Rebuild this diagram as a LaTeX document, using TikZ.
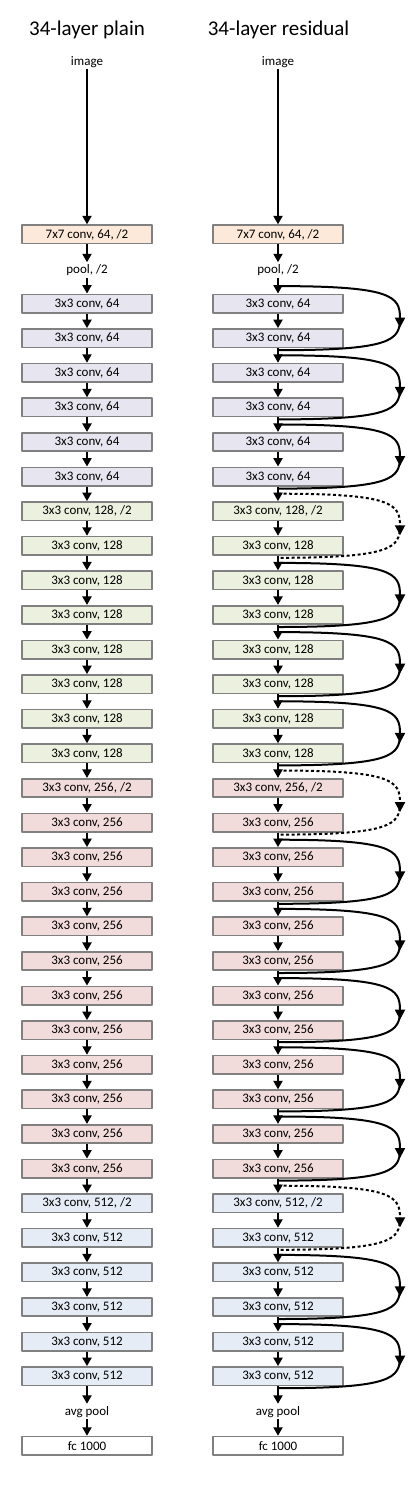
\documentclass[tikz,border=0pt]{standalone}
\usepackage{fontspec}
\setmainfont{Carlito}
\usetikzlibrary{arrows.meta}
\definecolor{edgegray}{HTML}{808080}
\definecolor{cfirst}{HTML}{FCE9D9}
\definecolor{csixtyfour}{HTML}{E7E5EF}
\definecolor{conetwoeight}{HTML}{EBF1DE}
\definecolor{ctwofivesix}{HTML}{F2DCDB}
\definecolor{cfivetwelve}{HTML}{E5ECF5}
\tikzset{
  layer/.style={draw=edgegray, line width=1.6pt, minimum width=130.4pt, minimum height=18.5pt, inner sep=0pt},
  plainlbl/.style={inner sep=2pt, anchor=base},
  flow/.style={-{Triangle[width=9pt,length=8.5pt]}, line width=2pt},
  skip/.style={line width=2pt},
  skiphead/.style={-{Triangle[width=10pt,length=10pt]}},
  proj/.style={skip, dash pattern=on 3pt off 2.5pt}
}
\begin{document}
\begin{tikzpicture}[x=1pt, y=-1pt, line join=round, font=\fontsize{13}{15}\selectfont]
\useasboundingbox (0,0) rectangle (412,1486);
% titles and input
\node[anchor=base, font=\fontsize{21}{25}\selectfont] (tplain) at (87,35) {34-layer plain};
\node[anchor=base, font=\fontsize{21}{25}\selectfont] (tres) at (278.5,35) {34-layer residual};
\node[plainlbl] (pimg) at (87,65) {image};
\node[plainlbl] (rimg) at (278,65) {image};
\node[layer, fill=cfirst] (p0) at (87,234.4) {7x7 conv, 64, /2};
\node[layer, fill=cfirst] (r0) at (278,234.4) {7x7 conv, 64, /2};
\node[plainlbl] (ppool) at (87,273.5) {pool, /2};
\node[plainlbl] (rpool) at (278,273.5) {pool, /2};
% 3x3 conv stacks
\foreach \first/\last/\ch/\col in {1/6/64/csixtyfour, 7/14/128/conetwoeight, 15/26/256/ctwofivesix, 27/32/512/cfivetwelve} {
  \foreach \i in {\first,...,\last} {
    \pgfmathsetmacro\yy{303.6+(\i-1)*34.6}
    \ifnum\i=\first \ifnum\i>1 \def\lbl{3x3 conv, \ch, /2}\else\def\lbl{3x3 conv, \ch}\fi\else\def\lbl{3x3 conv, \ch}\fi
    \node[layer, fill=\col] (p\i) at (87,\yy) {\lbl};
    \node[layer, fill=\col] (r\i) at (278,\yy) {\lbl};
  }
}
\node[plainlbl] (pavg) at (87,1415) {avg pool};
\node[plainlbl] (ravg) at (278,1415) {avg pool};
\node[layer, fill=white] (pfc) at (87,1445.8) {fc 1000};
\node[layer, fill=white] (rfc) at (278,1445.8) {fc 1000};
% main flow
\foreach \c in {p,r} {
  \draw[flow] (\c img) -- (\c0);
  \draw[flow] (\c0) -- (\c pool);
  \draw[flow] (\c pool) -- (\c1);
  \foreach \i [evaluate=\i as \j using int(\i+1)] in {1,...,31}
    \draw[flow] (\c\i) -- (\c\j);
  \draw[flow] (\c32) -- (\c avg);
  \draw[flow] (\c avg) -- (\c fc);
}
% shortcuts
\foreach \k/\sty in {1/skip,3/skip,5/skip,7/proj,9/skip,11/skip,13/skip,15/proj,17/skip,19/skip,21/skip,23/skip,25/skip,27/proj,29/skip,31/skip} {
  \pgfmathsetmacro\ys{303.6+(\k-1)*34.6-17.5}
  \pgfmathsetmacro\ye{303.6+\k*34.6+12}
  \pgfmathsetmacro\ym{(\ys+\ye)/2}
  \coordinate (s\k) at (278,\ys);
  \coordinate (m\k) at (400,\ym);
  \coordinate (e\k) at (278,\ye);
  \draw[\sty] (m\k) .. controls (400,\ye-10) and (392,\ye) .. (e\k);
  \draw[\sty, skiphead] (s\k) .. controls (392,\ys) and (400,\ys+10) .. (m\k) -- ++(0,9.5);
}
\end{tikzpicture}
\end{document}
